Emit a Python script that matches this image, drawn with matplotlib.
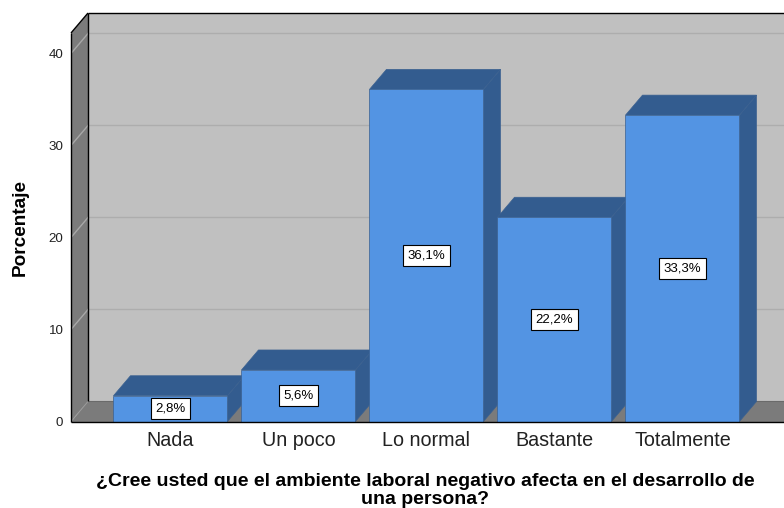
import matplotlib
matplotlib.use("Agg")
import matplotlib.pyplot as plt
from matplotlib.patches import Polygon

plt.rcParams['font.family'] = ['Liberation Sans', 'DejaVu Sans']

categories = ["Nada", "Un poco", "Lo normal", "Bastante", "Totalmente"]
values = [2.8, 5.6, 36.1, 22.2, 33.3]
value_labels = ["2,8%", "5,6%", "36,1%", "22,2%", "33,3%"]
yticks = [0, 10, 20, 30, 40]
ylabel = "Porcentaje"
xlabel = "¿Cree usted que el ambiente laboral negativo afecta en el desarrollo de\nuna persona?"

W, H = 784, 508
fig = plt.figure(figsize=(W / 100, H / 100), dpi=100)
fig.patch.set_facecolor("white")

# geometry (pixels)
ax_left_px, ax_right_px = 71, 784
ax_bottom_px, ax_top_px = 421.5, 13
ax = fig.add_axes([ax_left_px / W, 1 - ax_bottom_px / H,
                   (ax_right_px - ax_left_px) / W, (ax_bottom_px - ax_top_px) / H])

xl, xr = -0.777, 4.793
ytop = 44.4
ax.set_xlim(xl, xr)
ax.set_ylim(0, ytop)
dx = 17 / 128
dy = 20 / 9.2
bw = 114 / 128

for s in ax.spines.values():
    s.set_visible(False)
ax.set_facecolor("none")

wall_c = "#c0c0c0"
side_c = "#7b7b7b"
grid_c = "#adadad"

# back wall
ax.add_patch(Polygon([(xl + dx, dy), (xr + 1, dy), (xr + 1, ytop), (xl + dx, ytop)],
                     closed=True, facecolor=wall_c, edgecolor="none", zorder=1))
# left wall
ax.add_patch(Polygon([(xl, 0), (xl + dx, dy), (xl + dx, ytop), (xl, ytop - dy)],
                     closed=True, facecolor=side_c, edgecolor="none", zorder=1))
# floor
ax.add_patch(Polygon([(xl, 0), (xr + 1, 0), (xr + 1, dy), (xl + dx, dy)],
                     closed=True, facecolor=side_c, edgecolor="none", zorder=1))
ax.plot([xl + dx, xr + 1], [dy, dy], color="#6a6a6a", lw=0.8, zorder=2)
ax.plot([xl, xl + dx], [0, dy], color="#9a9a9a", lw=0.7, zorder=2)

# gridlines
for v in yticks[1:]:
    ax.plot([xl + dx, xr + 1], [v + dy, v + dy], color=grid_c, lw=1.0, zorder=2)
    ax.plot([xl, xl + dx], [v, v + dy], color="#a8a8a8", lw=1.0, zorder=2)

# frame lines
k = dict(color="black", lw=1.0, zorder=3, clip_on=False, solid_capstyle="butt")
ax.plot([xl, xl], [0, ytop - dy], **k)
ax.plot([xl, xl + dx], [ytop - dy, ytop], **k)
ax.plot([xl + dx, xr], [ytop, ytop], **k)
ax.plot([xl + dx, xl + dx], [dy, ytop], **k)

front_c = "#5394e3"
dark_c = "#335c8f"
edge_c = "#3b6190"

for i, (v, lab) in enumerate(zip(values, value_labels)):
    x0, x1 = i - bw / 2, i + bw / 2
    z = 4 + i
    # side
    ax.add_patch(Polygon([(x1, 0), (x1 + dx, dy), (x1 + dx, v + dy), (x1, v)],
                         closed=True, facecolor=dark_c, edgecolor=edge_c, lw=0.5, zorder=z))
    # top
    ax.add_patch(Polygon([(x0, v), (x1, v), (x1 + dx, v + dy), (x0 + dx, v + dy)],
                         closed=True, facecolor=dark_c, edgecolor=edge_c, lw=0.5, zorder=z))
    # front
    ax.add_patch(Polygon([(x0, 0), (x1, 0), (x1, v), (x0, v)],
                         closed=True, facecolor=front_c, edgecolor=edge_c, lw=0.5, zorder=z))
    ax.text(i, v / 2, lab, ha="center", va="center", fontsize=9.5, color="black", zorder=20,
            bbox=dict(boxstyle="square,pad=0.33", facecolor="white", edgecolor="black", lw=0.8))

# floor front line
ax.plot([xl, xr], [0, 0], **k)
ax.lines[-1].set_zorder(15)

ax.set_yticks(yticks)
ax.set_yticklabels([str(t) for t in yticks], fontsize=9.6, color="#222222")
ax.set_xticks(range(len(categories)))
ax.set_xticklabels(categories, fontsize=14.2, color="#222222")
ax.tick_params(axis="both", length=0)
ax.tick_params(axis="y", pad=5.5)
ax.tick_params(axis="x", pad=6.5)

fig.text(20 / W, 1 - 227 / H, ylabel, rotation=90, ha="center", va="center",
         fontsize=13.7, fontweight="bold", color="black")
fig.text(425 / W, 1 - 472.5 / H, xlabel, ha="center", va="top", fontsize=14,
         fontweight="bold", color="black", linespacing=1.12)

fig.savefig("out.png", dpi=100)
